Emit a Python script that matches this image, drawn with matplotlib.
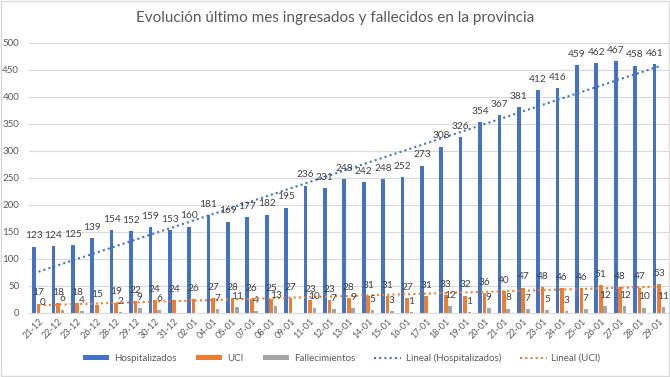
import numpy as np
import matplotlib.pyplot as plt
from matplotlib.patches import Rectangle

plt.rcParams['font.family'] = ['Lato', 'DejaVu Sans']

dates = ["21-12", "22-12", "23-12", "26-12", "28-12", "29-12", "30-12", "31-12",
         "02-01", "04-01", "05-01", "07-01", "08-01", "09-01", "11-01", "12-01",
         "13-01", "14-01", "15-01", "16-01", "17-01", "18-01", "19-01", "20-01",
         "21-01", "22-01", "23-01", "24-01", "25-01", "26-01", "27-01", "28-01", "29-01"]

hospitalizados = [123, 124, 125, 139, 154, 152, 159, 153, 160, 181, 169, 177, 182, 195,
                  236, 231, 248, 242, 248, 252, 273, 308, 326, 354, 367, 381, 412, 416,
                  459, 462, 467, 458, 461]
uci = [17, 18, 18, 15, 19, 22, 24, 24, 26, 27, 28, 26, 25, 27, 23, 23, 28, 31, 31, 27,
       31, 33, 32, 36, 40, 47, 48, 46, 46, 51, 48, 47, 53]
fallecimientos = [0, 6, 4, np.nan, 2, 9, 6, np.nan, np.nan, 7, 11, 4, 13, np.nan, 10, 7,
                  9, 5, 3, 1, np.nan, 12, 1, 9, 8, 7, 5, 3, 7, 12, 12, 10, 11]

BLUE = "#4472C4"
ORANGE = "#ED7D31"
GRAY = "#A5A5A5"
TEXT = "#595959"

fig = plt.figure(figsize=(6.7, 3.77), dpi=100)
ax = fig.add_axes([0.043, 0.170, 0.955, 0.716])

x = np.arange(len(dates))
w = 0.19
off = 0.23

series = [(hospitalizados, BLUE, "Hospitalizados", -off),
          (uci, ORANGE, "UCI", 0),
          (fallecimientos, GRAY, "Fallecimientos", off)]

handles = []
for vals, color, name, dx in series:
    vals = np.array(vals, dtype=float)
    b = ax.bar(x + dx, np.nan_to_num(vals), width=w, color=color, label=name, zorder=2)
    handles.append(b)
    for xi, v in zip(x, vals):
        if np.isnan(v):
            continue
        ax.annotate(f"{int(v)}", (xi + dx, v), xytext=(0, 4.5), textcoords="offset points",
                    ha="center", va="bottom", fontsize=7.3, color="#404040", zorder=4)

# linear trendlines
for vals, color, name in [(hospitalizados, BLUE, "Lineal (Hospitalizados)"),
                          (uci, ORANGE, "Lineal (UCI)")]:
    k, b0 = np.polyfit(x, vals, 1)
    ln, = ax.plot(x, k * x + b0, linestyle=(0, (1, 1.5)), color=color, lw=1.5,
                  label=name, zorder=3)
    handles.append(ln)

ax.set_xlim(-0.5, len(dates) - 0.5)
ax.set_ylim(0, 500)
ax.set_yticks(np.arange(0, 501, 50))
ax.yaxis.grid(True, color="#D9D9D9", lw=0.8, zorder=0)
ax.set_axisbelow(True)
ax.set_xticks(x)
ax.set_xticklabels(dates, rotation=45, ha="right", rotation_mode="anchor",
                   fontsize=6.5, color=TEXT)
ax.tick_params(axis="y", labelsize=7, colors=TEXT, length=0, pad=7)
ax.tick_params(axis="x", length=0, pad=3)
for s in ["top", "right", "left"]:
    ax.spines[s].set_visible(False)
ax.spines["bottom"].set_color("#D9D9D9")

fig.text(0.5, 0.952, "Evolución último mes ingresados y fallecidos en la provincia",
         ha="center", va="center", fontsize=11, color=TEXT)

leg = fig.legend(handles=handles, loc="center", bbox_to_anchor=(0.51, 0.05), ncol=5,
                 frameon=False, fontsize=7, handlelength=2.7, handleheight=0.45,
                 columnspacing=2.0, handletextpad=0.5)
for t in leg.get_texts():
    t.set_color(TEXT)

fig.patches.append(Rectangle((0.001, 0.003), 0.998, 0.994, transform=fig.transFigure,
                             fill=False, edgecolor="#D9D9D9", lw=1))

fig.savefig("out.png", dpi=100)
